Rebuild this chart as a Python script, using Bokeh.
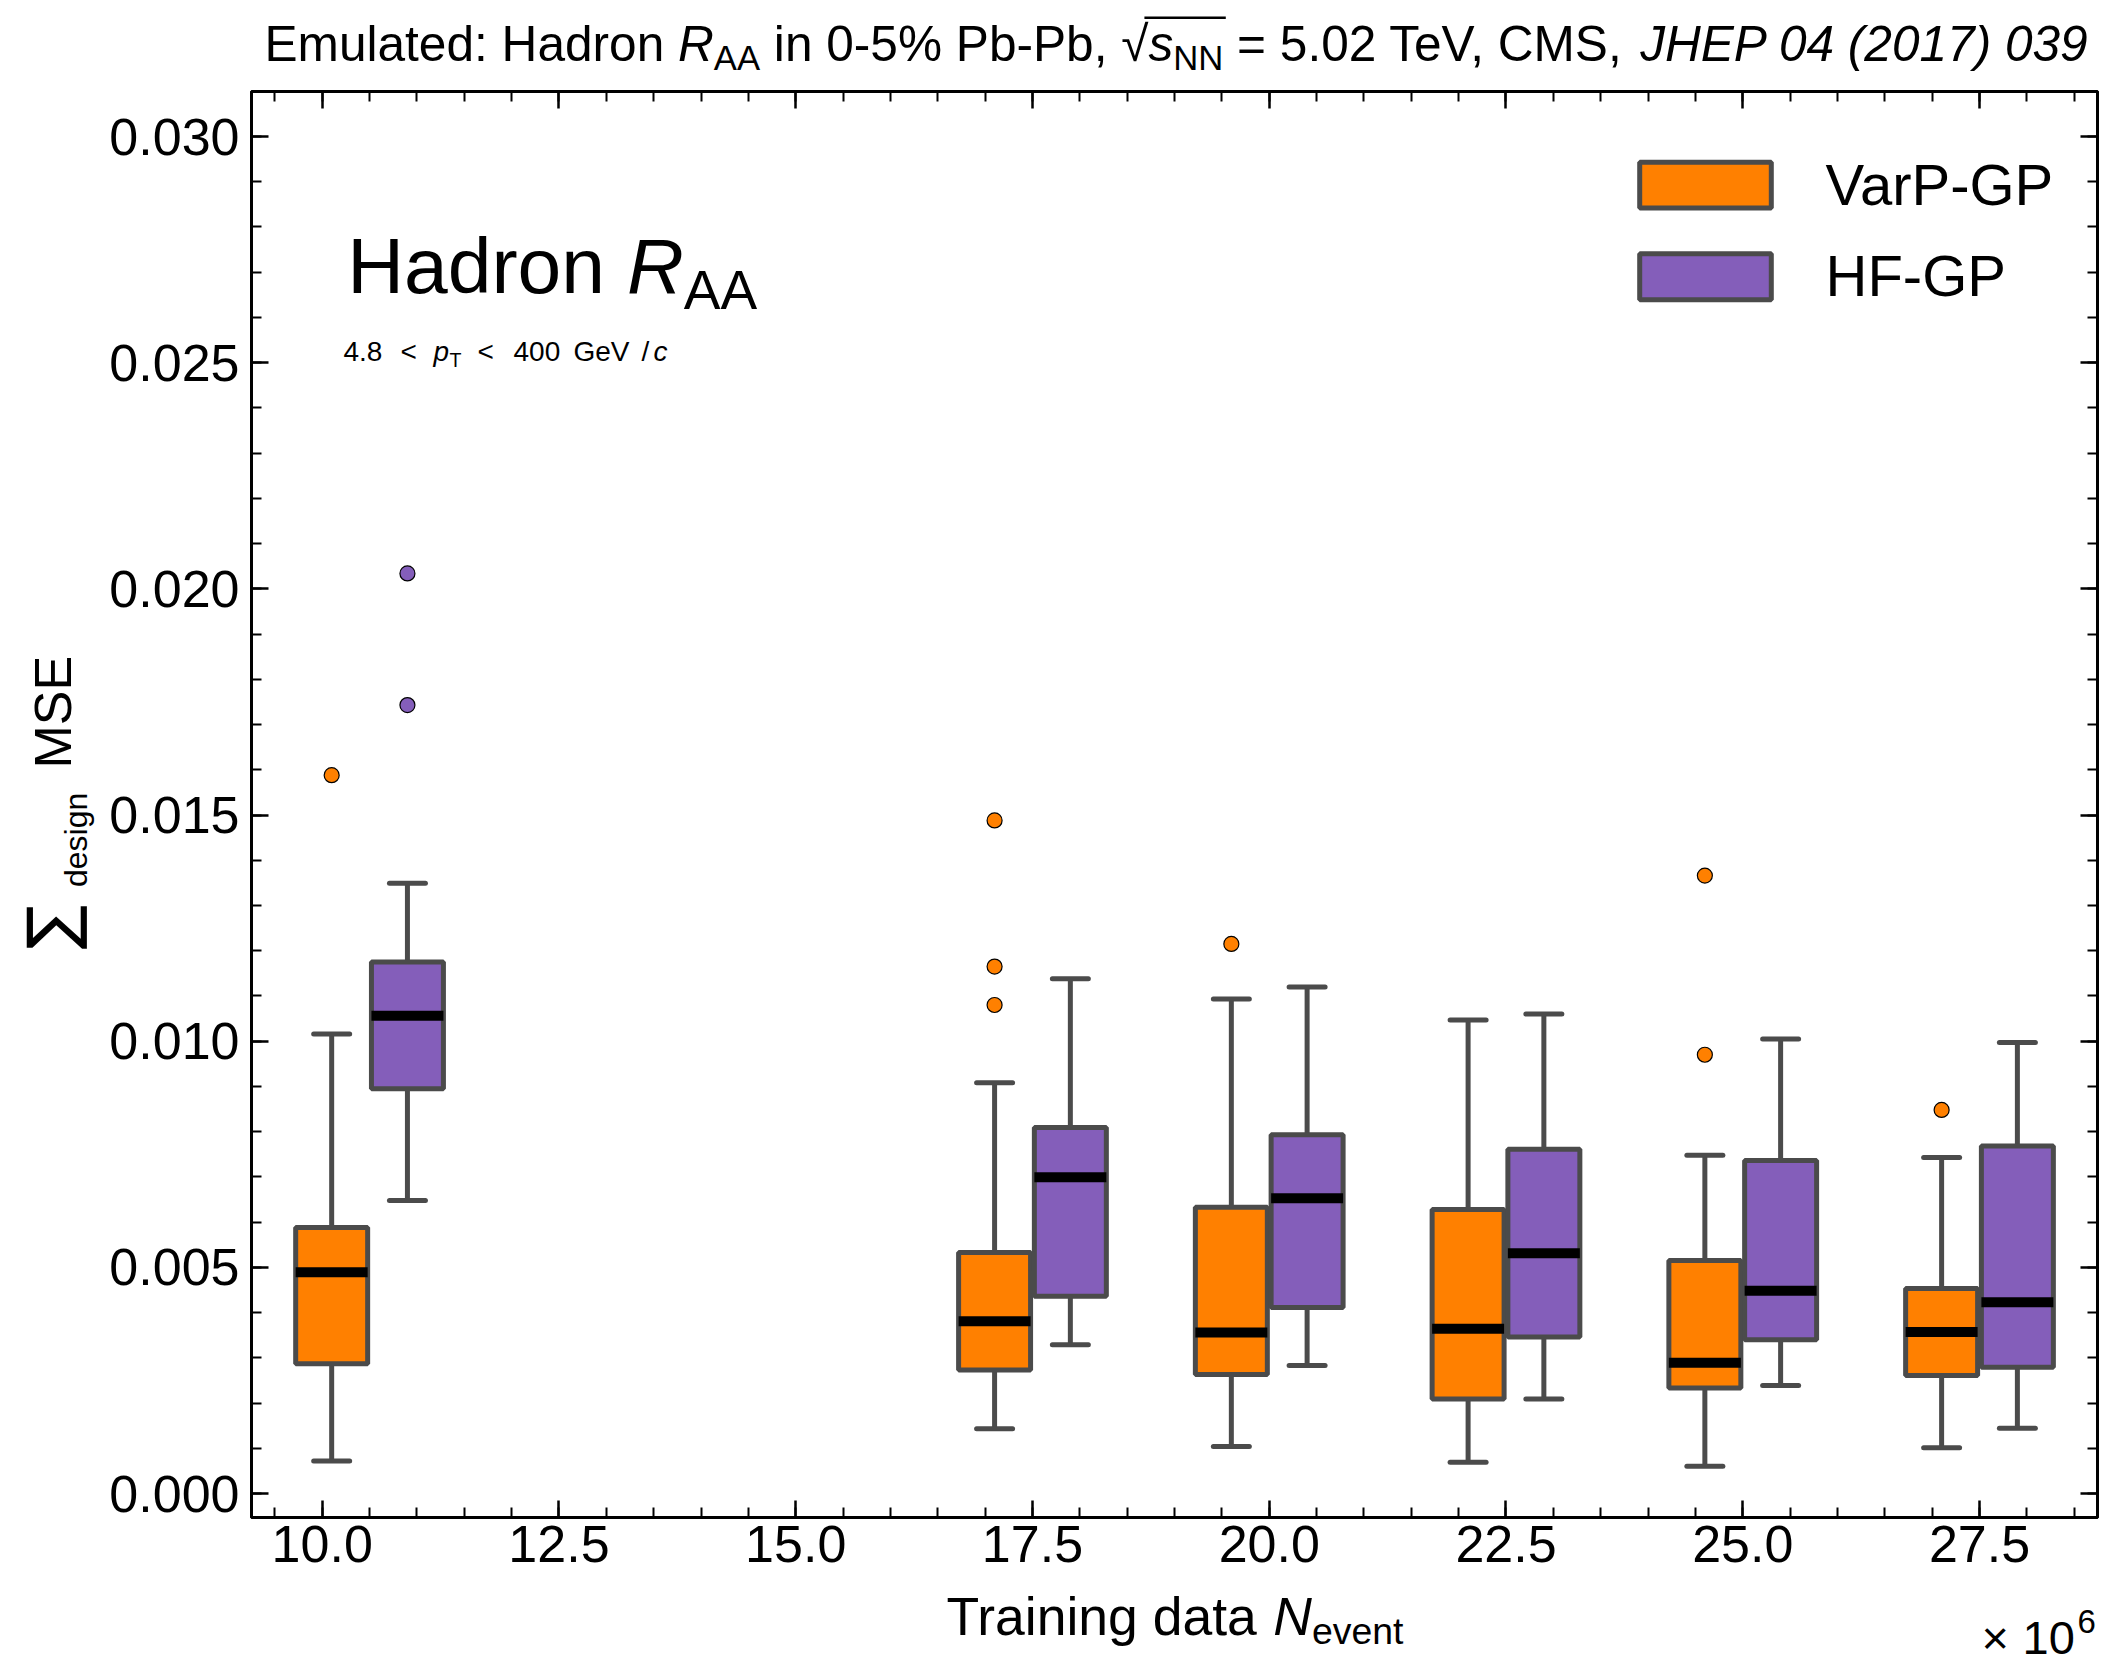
import os, glob, struct, subprocess, math
from bokeh.plotting import figure
from bokeh.layouts import column, row
from bokeh.models import (Range1d, LinearAxis, FixedTicker, PrintfTickFormatter,
                          CustomJSTickFormatter, Label, BoxAnnotation)
from bokeh.embed import file_html
from bokeh.resources import INLINE

# ---------------- data: summed MSE over design points ----------------
n_event = [10.5, 17.5, 20.0, 22.5, 25.0, 27.5]          # training events (x 10^6)
series = ["VarP-GP", "HF-GP"]

varp_low = [0.00072, 0.00143, 0.00104, 0.00069, 0.00060, 0.00101]
varp_q1 = [0.00287, 0.00273, 0.00263, 0.00209, 0.00233, 0.00261]
varp_med = [0.00489, 0.00381, 0.00356, 0.00364, 0.00289, 0.00357]
varp_q3 = [0.00588, 0.00533, 0.00633, 0.00628, 0.00515, 0.00453]
varp_high = [0.01016, 0.00908, 0.01093, 0.01047, 0.00748, 0.00743]
varp_fliers = [[0.01588], [0.01488, 0.01165, 0.01080], [0.01215], [],
               [0.01366, 0.00970], [0.00848]]

hf_low = [0.00648, 0.00329, 0.00283, 0.00209, 0.00239, 0.00144]
hf_q1 = [0.00895, 0.00436, 0.00411, 0.00346, 0.00340, 0.00279]
hf_med = [0.01056, 0.00699, 0.00653, 0.00531, 0.00448, 0.00423]
hf_q3 = [0.01175, 0.00809, 0.00793, 0.00761, 0.00736, 0.00768]
hf_high = [0.01349, 0.01138, 0.01120, 0.01060, 0.01005, 0.00997]
hf_fliers = [[0.02034, 0.01743], [], [], [], [], []]

x_ticks = [10.0, 12.5, 15.0, 17.5, 20.0, 22.5, 25.0, 27.5]
y_ticks = [0.000, 0.005, 0.010, 0.015, 0.020, 0.025, 0.030]

# ---------------- font metrics (for composing sub/superscripts) ----------------
FONT = "Liberation Sans"


def font_path(family, italic=False):
    try:
        spec = family + (":style=Italic" if italic else ":style=Regular")
        r = subprocess.run(["fc-match", "-f", "%{file}", spec], capture_output=True,
                           text=True, timeout=10)
        f = r.stdout.strip()
        key = family.replace(" ", "").lower()
        if f and os.path.exists(f) and key in os.path.basename(f).replace("-", "").replace(" ", "").lower():
            return f
    except Exception:
        pass
    fname = family.replace(" ", "") + ("-Italic" if italic else "")
    cands = [fname + ".ttf", fname + "-Regular.ttf"] if not italic else [fname + ".ttf", family.replace(" ", "") + "-Oblique.ttf"]
    for d in ["/usr/share/fonts", "/usr/local/share/fonts", os.path.expanduser("~/.fonts"),
              os.path.expanduser("~/.local/share/fonts")]:
        for c in cands:
            for f in glob.glob(os.path.join(d, "**", c), recursive=True):
                return f
    return None


class Metrics:
    def __init__(self, path):
        self.ok = False
        try:
            d = open(path, "rb").read()
            base = struct.unpack(">I", d[12:16])[0] if d[:4] == b"ttcf" else 0
            n = struct.unpack(">H", d[base + 4:base + 6])[0]
            tab = {}
            for i in range(n):
                rec = d[base + 12 + 16 * i: base + 28 + 16 * i]
                tab[rec[:4].decode("latin1")] = struct.unpack(">I", rec[8:12])[0]
            h = tab["head"]
            self.upem = struct.unpack(">H", d[h + 18:h + 20])[0]
            hh = tab["hhea"]
            nh = struct.unpack(">H", d[hh + 34:hh + 36])[0]
            hm = tab["hmtx"]
            self.adv = [struct.unpack(">H", d[hm + 4 * i:hm + 4 * i + 2])[0] for i in range(nh)]
            c = tab["cmap"]
            nsub = struct.unpack(">H", d[c + 2:c + 4])[0]
            sub = None
            for i in range(nsub):
                pid, eid, so = struct.unpack(">HHI", d[c + 4 + 8 * i:c + 12 + 8 * i])
                fmt = struct.unpack(">H", d[c + so:c + so + 2])[0]
                if fmt == 4 and ((pid == 3 and eid == 1) or pid == 0):
                    sub = c + so
                    break
            segx2 = struct.unpack(">H", d[sub + 6:sub + 8])[0]
            seg = segx2 // 2
            self.ends = struct.unpack(">%dH" % seg, d[sub + 14:sub + 14 + segx2])
            o = sub + 16 + segx2
            self.starts = struct.unpack(">%dH" % seg, d[o:o + segx2])
            o += segx2
            self.deltas = struct.unpack(">%dh" % seg, d[o:o + segx2])
            o += segx2
            self.ro_off = o
            self.ros = struct.unpack(">%dH" % seg, d[o:o + segx2])
            self.d = d
            self.ok = True
        except Exception:
            self.ok = False

    def glyph(self, ch):
        c = ord(ch)
        for i, e in enumerate(self.ends):
            if c <= e:
                if c < self.starts[i]:
                    return 0
                if self.ros[i] == 0:
                    return (c + self.deltas[i]) & 0xFFFF
                a = self.ro_off + 2 * i + self.ros[i] + 2 * (c - self.starts[i])
                g = struct.unpack(">H", self.d[a:a + 2])[0]
                return (g + self.deltas[i]) & 0xFFFF if g else 0
        return 0

    def width(self, s):
        if not self.ok:
            return 0.55 * len(s)
        tot = 0
        for ch in s:
            g = self.glyph(ch)
            tot += self.adv[min(g, len(self.adv) - 1)]
        return tot / self.upem


def load(family, italic=False):
    p_ = font_path(family, italic)
    m = Metrics(p_) if p_ else None
    if m is None or not m.ok:
        m = Metrics("/nonexistent")
    return m


MET = {False: load(FONT, False), True: load(FONT, True)}
SUM_MET = load("DejaVu Sans", False)

# ---------------- page geometry ----------------
W, H = 2104, 1667
TOP_H, LEFT_W, BOT_Y = 80, 100, 1584
FL, FR, FT, FB = 251, 2097, 91, 1517
PX_X = (1979.0 - 321.7) / 17.5
X0 = 10.0 - (321.7 - FL) / PX_X
X1 = X0 + (FR - FL) / PX_X
PX_Y = (1493.0 - 136.0) / 0.030
Y0 = -(FB - 1493.0) / PX_Y
Y1 = Y0 + (FB - FT) / PX_Y
BASE_FIX = 0.38     # label anchor correction (em) so the glyph baseline lands where wanted
ROT_SHIFT = 32      # along-text correction for the rotated labels (px)


def dx(px):
    return X0 + (px - FL) / PX_X


def dy(py):
    return Y0 + (FB - py) / PX_Y


ORANGE = "#FF8000"
PURPLE = "#845EBA"
EDGE = "#4B4B4B"
OFF = 0.4
BW = 0.76

p = figure(width=W - LEFT_W, height=BOT_Y - TOP_H, x_range=Range1d(X0, X1),
           y_range=Range1d(Y0, Y1), output_backend="svg", toolbar_location=None,
           title=None, min_border_left=FL - LEFT_W, min_border_right=W - FR,
           min_border_top=FT - TOP_H, min_border_bottom=BOT_Y - FB,
           background_fill_color="white", border_fill_color="white")
p.grid.visible = False
p.outline_line_color = "black"
p.outline_line_width = 3
p.outline_line_alpha = 1.0

x_minor = [9.5 + 0.5 * i for i in range(39)]
y_minor = [0.001 * i for i in range(32)]


def style_axis(ax, show_labels):
    ax.axis_line_color = "black"
    ax.axis_line_width = 3
    ax.major_tick_in = 17
    ax.major_tick_out = 0
    ax.minor_tick_in = 10
    ax.minor_tick_out = 0
    ax.major_tick_line_width = 2.5
    ax.minor_tick_line_width = 2
    ax.major_tick_line_color = "black"
    ax.minor_tick_line_color = "black"
    ax.major_label_text_font = FONT
    ax.major_label_text_color = "black"
    if show_labels:
        ax.major_label_text_font_size = "52px"
    else:
        ax.major_label_text_font_size = "1px"
        ax.major_label_standoff = 0
        ax.formatter = CustomJSTickFormatter(code="return ''")


p.xaxis.ticker = FixedTicker(ticks=x_ticks, minor_ticks=x_minor)
p.yaxis.ticker = FixedTicker(ticks=y_ticks, minor_ticks=y_minor)
p.xaxis.formatter = PrintfTickFormatter(format="%.1f")
p.yaxis.formatter = PrintfTickFormatter(format="%.3f")
style_axis(p.xaxis[0], True)
style_axis(p.yaxis[0], True)
p.xaxis.major_label_standoff = 8
p.yaxis.major_label_standoff = 12
top_ax = LinearAxis(ticker=FixedTicker(ticks=x_ticks, minor_ticks=x_minor))
right_ax = LinearAxis(ticker=FixedTicker(ticks=y_ticks, minor_ticks=y_minor))
style_axis(top_ax, False)
style_axis(right_ax, False)
p.add_layout(top_ax, "above")
p.add_layout(right_ax, "right")

# ---------------- box plots ----------------
groups = [
    ([n - OFF for n in n_event], varp_low, varp_q1, varp_med, varp_q3, varp_high, varp_fliers, ORANGE),
    ([n + OFF for n in n_event], hf_low, hf_q1, hf_med, hf_q3, hf_high, hf_fliers, PURPLE),
]
for xs, lo, q1, med, q3, hi, fl, col in groups:
    p.segment(x0=xs, y0=q3, x1=xs, y1=hi, line_color=EDGE, line_width=5)
    p.segment(x0=xs, y0=lo, x1=xs, y1=q1, line_color=EDGE, line_width=5)
    cx0 = [x - BW / 4 for x in xs]
    cx1 = [x + BW / 4 for x in xs]
    p.segment(x0=cx0, y0=hi, x1=cx1, y1=hi, line_color=EDGE, line_width=5, line_cap="round")
    p.segment(x0=cx0, y0=lo, x1=cx1, y1=lo, line_color=EDGE, line_width=5, line_cap="round")
    p.vbar(x=xs, width=BW, bottom=q1, top=q3, fill_color=col, line_color=EDGE, line_width=5)
    p.segment(x0=[x - BW / 2 for x in xs], y0=med, x1=[x + BW / 2 for x in xs], y1=med,
              line_color="black", line_width=10)
    fx = [x for x, f in zip(xs, fl) for _ in f]
    fy = [v for f in fl for v in f]
    p.scatter(x=fx, y=fy, size=15, fill_color=col, line_color="black", line_width=1.2)


# ---------------- strips holding the texts that sit outside the frame ----------------
def strip(x0, y0, w, h):
    f = figure(width=w, height=h, x_range=Range1d(x0, x0 + w), y_range=Range1d(y0 + h, y0),
               output_backend="svg", toolbar_location=None, title=None,
               x_axis_location=None, y_axis_location=None,
               min_border_left=0, min_border_right=0, min_border_top=0, min_border_bottom=0,
               background_fill_color="white", border_fill_color="white",
               outline_line_color=None)
    f.grid.visible = False
    return f


top_fig = strip(0, 0, W, TOP_H)
left_fig = strip(0, TOP_H, LEFT_W, BOT_Y - TOP_H)
bot_fig = strip(0, BOT_Y, W, H - BOT_Y)


def conv_main(px, py):
    return dx(px), dy(py)


def conv_page(px, py):
    return px, py


def add_text(fig, conv, text, px, py, size, italic=False, font=FONT, angle=0.0):
    if angle == 0.0:
        ax_, ay_ = px, py - BASE_FIX * size
    else:
        ax_, ay_ = px - BASE_FIX * size, py + ROT_SHIFT
    x, y = conv(ax_, ay_)
    fig.add_layout(Label(x=x, y=y, text=text, text_font=font,
                         text_font_size="%.1fpx" % size,
                         text_font_style="italic" if italic else "normal",
                         text_color="black", text_align="left",
                         text_baseline="alphabetic", angle=angle))


def run_width(pieces, size):
    return sum(MET[it].width(t) * size * rel for t, it, rel, dr in pieces)


def run(fig, conv, pieces, start, baseline, size):
    pos = start
    spans = []
    for t, it, rel, dr in pieces:
        fs = size * rel
        lead = len(t) - len(t.lstrip())
        off = MET[it].width(t[:lead]) * fs
        if t.strip():
            add_text(fig, conv, t.strip(), pos + off, baseline + dr * size, fs, it)
        w = MET[it].width(t) * fs
        spans.append((pos, pos + w))
        pos += w
    return spans


# title
title_pieces = [
    ("Emulated: Hadron ", False, 1.0, 0.0),
    ("R", True, 1.0, 0.0),
    ("AA", False, 0.7, 0.17),
    (" in 0-5% Pb-Pb, ", False, 1.0, 0.0),
    ("\u221a", False, 1.0, 0.0),
    ("s", True, 1.0, 0.0),
    ("NN", False, 0.7, 0.17),
    (" = 5.02 TeV, CMS,", False, 1.0, 0.0),
    (" ", False, 0.55, 0.0),
    ("JHEP 04 (2017) 039", True, 1.0, 0.0),
]
T_BASE = 62
t_size = min(50.0, 1825.0 / run_width(title_pieces, 1.0))
t_w = run_width(title_pieces, t_size)
t_start = 1176.5 - t_w / 2
spans = run(top_fig, conv_page, title_pieces, t_start, T_BASE, t_size)
ov_l = spans[4][1] - 0.08 * t_size
ov_r = spans[6][1] + 0.05 * t_size
ov_top = T_BASE - 0.93 * t_size
top_fig.add_layout(BoxAnnotation(left=ov_l, right=ov_r, top=ov_top, bottom=ov_top + 2.5,
                                 fill_color="black", fill_alpha=1.0, line_color=None,
                                 level="annotation"))

# in-plot label
big_pieces = [("Hadron ", False, 1.0, 0.0), ("R", True, 1.0, 0.0), ("AA", False, 0.7, 0.19)]
b_size = 410.0 / run_width(big_pieces, 1.0)
run(p, conv_main, big_pieces, 346.7, 295, b_size)

# kinematic range
KS = 28
K_BASE = 362
kin = [("4.8", 343, False, 1.0, 0.0), ("<", 400, False, 1.0, 0.0), ("p", 433, True, 1.0, 0.0),
       ("T", 449, False, 0.7, 0.17), ("<", 477, False, 1.0, 0.0), ("400", 513, False, 1.0, 0.0),
       ("GeV", 573, False, 1.0, 0.0), ("/", 641, False, 1.0, 0.0), ("c", 653, True, 1.0, 0.0)]
for t, x, it, rel, dr in kin:
    add_text(p, conv_main, t, x, K_BASE + dr * KS, KS * rel, it)

# x axis label
xl_pieces = [("Training data ", False, 1.0, 0.0), ("N", True, 1.0, 0.0), ("event", False, 0.7, 0.17)]
xl_size = 457.0 / run_width(xl_pieces, 1.0)
run(bot_fig, conv_page, xl_pieces, 946, 1636, xl_size)

# multiplier
add_text(bot_fig, conv_page, "\u00d7", 1981, 1655, 47)
add_text(bot_fig, conv_page, "10", 2022, 1655, 47)
add_text(bot_fig, conv_page, "6", 2077, 1634, 33)

# y axis label (rotated)
sum_size = min(66.0, 58.0 / max(SUM_MET.width("\u2211"), 0.3))
add_text(left_fig, conv_page, "\u2211", 76, 953, sum_size, font="DejaVu Sans", angle=math.pi / 2)
add_text(left_fig, conv_page, "design", 88, 887, 32, angle=math.pi / 2)
add_text(left_fig, conv_page, "MSE", 72, 762, 52, angle=math.pi / 2)

# legend
LEG = [(159.3, 210.0, ORANGE, series[0], 206), (250.7, 301.7, PURPLE, series[1], 297)]
for top, bot, col, name, base in LEG:
    p.add_layout(BoxAnnotation(left=dx(1636.7 + 2.5), right=dx(1773.3 - 2.5),
                               top=dy(top + 2.5), bottom=dy(bot - 2.5),
                               fill_color=col, fill_alpha=1.0, line_color=EDGE,
                               line_width=5, line_alpha=1.0, level="annotation"))
    add_text(p, conv_main, name, 1825, base, 58)

layout = column(top_fig, row(left_fig, p, spacing=0), bot_fig, spacing=0)
open("out.html", "w").write(file_html(layout, INLINE))
